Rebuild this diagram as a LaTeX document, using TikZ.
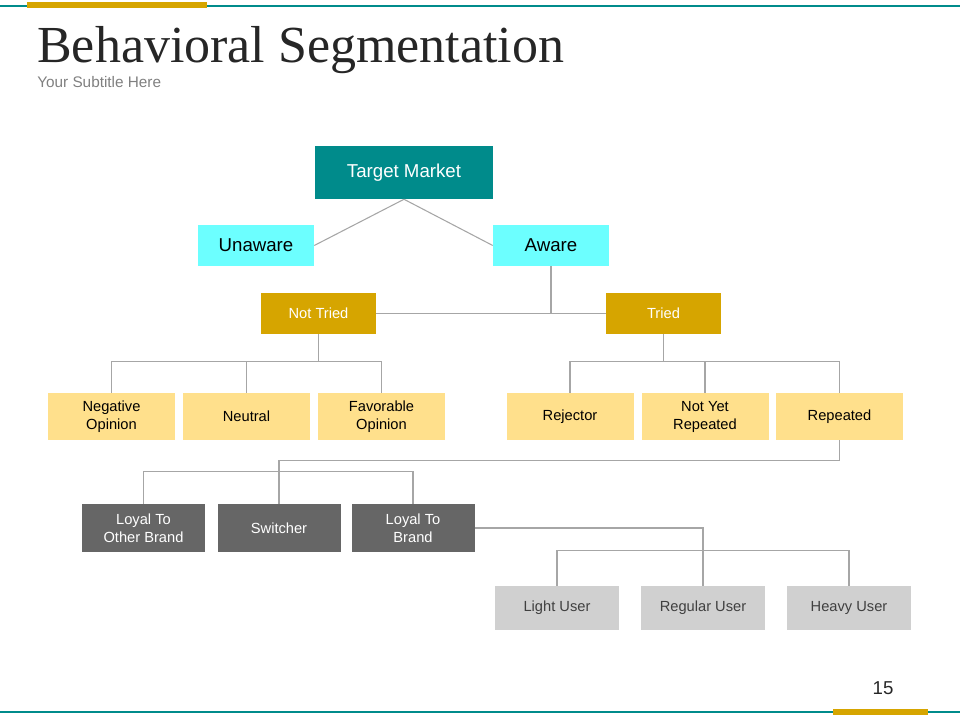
\documentclass[tikz,border=0pt]{standalone}
\usepackage{fontspec}
\setmainfont{Liberation Sans}
\newfontfamily\titlefont{Liberation Serif}
\definecolor{tealbox}{RGB}{0,139,139}
\definecolor{cyanbox}{RGB}{108,255,255}
\definecolor{goldbox}{RGB}{214,165,0}
\definecolor{paleGold}{RGB}{255,224,140}
\definecolor{darkbox}{RGB}{102,102,102}
\definecolor{lightbox}{RGB}{208,208,208}
\definecolor{linkgray}{RGB}{166,166,166}
\begin{document}
\begin{tikzpicture}[x=0.75pt,y=-0.75pt,
    box/.style={rectangle,inner sep=0pt,align=center,font=\fontsize{11}{13.5}\selectfont},
    top/.style={box,fill=tealbox,text=white,minimum width=133.5pt,minimum height=39.75pt,font=\fontsize{14}{16}\selectfont},
    aware/.style={box,fill=cyanbox,minimum width=87pt,minimum height=30.75pt,font=\fontsize{14}{16}\selectfont},
    tried/.style={box,fill=goldbox,text=white,minimum width=86.25pt,minimum height=30.75pt},
    opinion/.style={box,fill=paleGold,minimum width=95.25pt,minimum height=35.25pt},
    loyal/.style={box,fill=darkbox,text=white,minimum width=92.25pt,minimum height=36pt},
    user/.style={box,fill=lightbox,text=black!75,minimum width=93pt,minimum height=33pt},
    link/.style={draw=linkgray,line width=0.8pt}]
    \useasboundingbox (0,0) rectangle (960,720);

    % frame lines
    \draw[tealbox, line width=1.5pt] (0,6) -- (960,6);
    \draw[goldbox, line width=4pt] (27,5) -- (207,5);
    \draw[tealbox, line width=1.5pt] (0,712) -- (960,712);
    \draw[goldbox, line width=4pt] (833,712) -- (928,712);

    \node[anchor=base west,inner sep=0pt,text=black!85,font=\titlefont\fontsize{39}{44}\selectfont] (title) at (37,63) {Behavioral Segmentation};
    \node[anchor=base west,inner sep=0pt,text=black!50,font=\fontsize{11.5}{13}\selectfont] (subtitle) at (37,87.5) {Your Subtitle Here};
    \node[inner sep=0pt,text=black!85,font=\fontsize{14}{16}\selectfont] (page) at (883,688) {15};

    \node[top] (tm) at (404,172.5) {Target Market};
    \node[aware] (un) at (256,245.5) {Unaware};
    \node[aware] (aw) at (551,245.5) {Aware};
    \node[tried] (nt) at (318.5,313.5) {Not Tried};
    \node[tried] (tr) at (663.5,313.5) {Tried};

    \node[opinion] (neg) at (111.5,416.5) {Negative\\Opinion};
    \node[opinion] (neu) at (246.5,416.5) {Neutral};
    \node[opinion] (fav) at (381.5,416.5) {Favorable\\Opinion};
    \node[opinion] (rej) at (570,416.5) {Rejector};
    \node[opinion] (nyr) at (705,416.5) {Not Yet\\Repeated};
    \node[opinion] (rep) at (839.5,416.5) {Repeated};

    \node[loyal] (lob) at (143.5,528) {Loyal To\\Other Brand};
    \node[loyal] (sw) at (279,528) {Switcher};
    \node[loyal] (lb) at (413,528) {Loyal To\\Brand};

    \node[user] (lu) at (557,608) {Light User};
    \node[user] (ru) at (703,608) {Regular User};
    \node[user] (hu) at (849,608) {Heavy User};

    \draw[link] (tm.south) -- (un.east);
    \draw[link] (tm.south) -- (aw.west);
    \draw[link] (aw.south) -- (aw.south |- nt.east);
    \draw[link] (nt.east) -- (tr.west);

    \draw[link] (nt.south) -- ++(0,28);
    \draw[link] (neg.north) -- ++(0,-31) -| (fav.north);
    \draw[link] (neu.north) -- ++(0,-31);
    \draw[link] (tr.south) -- ++(0,28);
    \draw[link] (rej.north) -- ++(0,-31) -| (rep.north);
    \draw[link] (nyr.north) -- ++(0,-31);

    \draw[link] (rep.south) -- ++(0,20) -| (sw.north);
    \draw[link] (lob.north) -- ++(0,-32) -| (lb.north);

    \draw[link] (lb.east) -| (ru.north);
    \draw[link] (lu.north) -- ++(0,-35) -| (hu.north);
\end{tikzpicture}
\end{document}
